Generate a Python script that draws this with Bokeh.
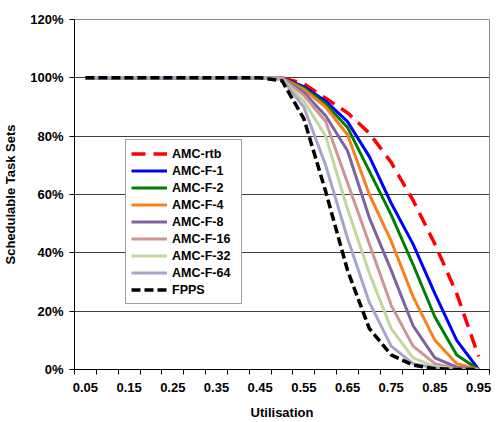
from bokeh.plotting import figure
from bokeh.models import FixedTicker, PrintfTickFormatter, Range1d, Legend, LegendItem
from bokeh.embed import file_html
from bokeh.resources import INLINE

# Utilisation levels (one category every 0.05)
utilisation = [0.05, 0.10, 0.15, 0.20, 0.25, 0.30, 0.35, 0.40, 0.45, 0.50,
               0.55, 0.60, 0.65, 0.70, 0.75, 0.80, 0.85, 0.90, 0.95]
tick_labels = ["0.05", "0.15", "0.25", "0.35", "0.45", "0.55", "0.65", "0.75", "0.85", "0.95"]

# Percentage of schedulable task sets per analysis
amc_rtb = [100, 100, 100, 100, 100, 100, 100, 100, 100, 100, 98, 93, 88, 81, 71, 58, 43, 26, 4.5]
amc_f1 = [100, 100, 100, 100, 100, 100, 100, 100, 100, 100, 97, 92, 85, 73, 57, 43, 26, 10, 0]
amc_f2 = [100, 100, 100, 100, 100, 100, 100, 100, 100, 100, 96.5, 91, 83, 68, 53, 36, 18, 5, 0]
amc_f4 = [100, 100, 100, 100, 100, 100, 100, 100, 100, 100, 96, 90, 80.5, 60, 44, 25, 10, 2, 0]
amc_f8 = [100, 100, 100, 100, 100, 100, 100, 100, 100, 100, 95, 87, 75, 52, 34, 15, 4, 0.8, 0]
amc_f16 = [100, 100, 100, 100, 100, 100, 100, 100, 100, 100, 94, 85, 64, 43, 22, 8, 2, 0.3, 0]
amc_f32 = [100, 100, 100, 100, 100, 100, 100, 100, 100, 99.5, 92, 80, 55, 33, 14, 4, 1, 0, 0]
amc_f64 = [100, 100, 100, 100, 100, 100, 100, 100, 100, 99.5, 90, 70, 45, 23, 8, 2, 0.5, 0, 0]
fpps = [100, 100, 100, 100, 100, 100, 100, 100, 100, 99, 86, 61, 34, 14, 5, 1.5, 0.3, 0, 0]

series = [
    ("AMC-rtb", amc_rtb, "#FF0000", 3.5, "14 8"),
    ("AMC-F-1", amc_f1, "#0000FF", 3, "solid"),
    ("AMC-F-2", amc_f2, "#008000", 3, "solid"),
    ("AMC-F-4", amc_f4, "#F7801F", 3, "solid"),
    ("AMC-F-8", amc_f8, "#7E62A1", 3, "solid"),
    ("AMC-F-16", amc_f16, "#CC9696", 3, "solid"),
    ("AMC-F-32", amc_f32, "#C3D69B", 3, "solid"),
    ("AMC-F-64", amc_f64, "#A6A5C9", 3, "solid"),
    ("FPPS", fpps, "#000000", 3.5, "9 4"),
]

FONT = "Liberation Sans"

p = figure(width=496, height=422, output_backend="svg", toolbar_location=None,
           x_range=Range1d(0.025, 0.975), y_range=Range1d(0, 120),
           min_border_left=71, min_border_right=7, min_border_top=19, min_border_bottom=53)

p.background_fill_color = "white"
p.border_fill_color = "white"
p.outline_line_color = "#8C8C8C"

items = []
for name, ys, color, width, dash in series:
    r = p.line(utilisation, ys, line_color=color, line_width=width, line_dash=dash,
               line_join="round")
    items.append(LegendItem(label=name, renderers=[r]))

# x axis: labels under every other category, ticks on category boundaries
label_pos = [float(t) for t in tick_labels]
boundaries = [u - 0.025 for u in utilisation] + [utilisation[-1] + 0.025]
p.xaxis.ticker = FixedTicker(ticks=label_pos, minor_ticks=boundaries)
p.xaxis.major_tick_out = 0
p.xaxis.major_tick_in = 0
p.xaxis.minor_tick_out = 5
p.xaxis.minor_tick_in = 0
p.xaxis.major_label_standoff = 8
p.xaxis.axis_label = "Utilisation"
p.xaxis.axis_label_standoff = 10

p.yaxis.ticker = FixedTicker(ticks=[0, 20, 40, 60, 80, 100, 120])
p.yaxis.formatter = PrintfTickFormatter(format="%d%%")
p.yaxis.major_tick_out = 5
p.yaxis.major_tick_in = 0
p.yaxis.minor_tick_out = 0
p.yaxis.minor_tick_in = 0
p.yaxis.major_label_standoff = 6
p.yaxis.axis_label = "Schedulable Task Sets"
p.yaxis.axis_label_standoff = 9

for ax in (p.xaxis, p.yaxis):
    ax.axis_line_color = "black"
    ax.major_tick_line_color = "black"
    ax.minor_tick_line_color = "black"
    ax.major_label_text_font = FONT
    ax.major_label_text_font_style = "bold"
    ax.major_label_text_font_size = "13px"
    ax.major_label_text_color = "black"
    ax.axis_label_text_font = FONT
    ax.axis_label_text_font_style = "bold"
    ax.axis_label_text_font_size = "13px"
    ax.axis_label_text_color = "black"

p.xgrid.visible = False
p.ygrid.ticker = FixedTicker(ticks=[20, 40, 60, 80, 100, 120])
p.ygrid.grid_line_color = "#404040"
p.ygrid.grid_line_width = 1

legend = Legend(items=items, location=(51, 65))
legend.padding = 5
legend.spacing = 0
legend.margin = 0
legend.label_height = 17
legend.glyph_height = 17
legend.glyph_width = 36
legend.label_standoff = 5
legend.label_width = 64
legend.label_text_font = FONT
legend.label_text_font_style = "bold"
legend.label_text_font_size = "12.5px"
legend.label_text_color = "black"
legend.border_line_color = "#404040"
legend.border_line_width = 1
legend.background_fill_color = "white"
legend.background_fill_alpha = 1
p.add_layout(legend, "center")

open("out.html", "w").write(file_html(p, INLINE))
